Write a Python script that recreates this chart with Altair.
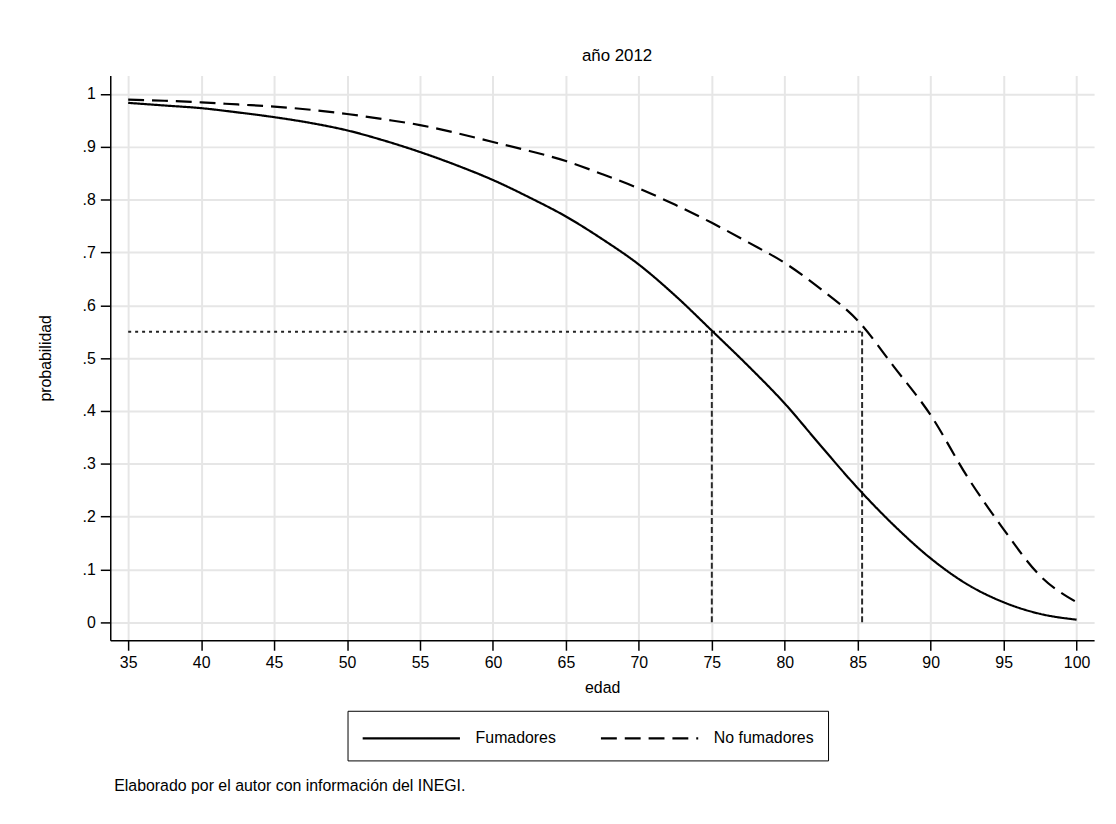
import altair as alt
import pandas as pd

ages = [35, 37.5, 40, 42.5, 45, 47.5, 50, 52.5, 55, 57.5, 60, 62.5, 65, 67.5,
        70, 72.5, 75, 77.5, 80, 82.5, 85, 87.5, 90, 92.5, 95, 97.5, 100]
fumadores = [0.983, 0.978, 0.973, 0.965, 0.956, 0.945, 0.931, 0.912, 0.890,
             0.865, 0.837, 0.804, 0.768, 0.725, 0.677, 0.618, 0.552, 0.485,
             0.414, 0.333, 0.254, 0.183, 0.121, 0.072, 0.038, 0.016, 0.005]
no_fumadores = [0.989, 0.987, 0.984, 0.980, 0.976, 0.970, 0.962, 0.952, 0.941,
                0.926, 0.909, 0.892, 0.873, 0.848, 0.821, 0.790, 0.756, 0.719,
                0.680, 0.630, 0.571, 0.483, 0.392, 0.276, 0.176, 0.088, 0.038]
series = ["Fumadores", "No fumadores"]
ref_prob = 0.55
ref_start = 35
ref_ages = [75, 85.3]
x_ticks = list(range(35, 101, 5))
y_ticks = [round(i / 10, 1) for i in range(0, 11)]
title_text = "año 2012"
caption = "Elaborado por el autor con información del INEGI."

FONT = "Liberation Sans"

n = len(ages)
df = pd.DataFrame({
    "edad": ages * 2,
    "prob": fumadores + no_fumadores,
    "serie": [series[0]] * n + [series[1]] * n,
})
hline = pd.DataFrame({"x": [ref_start], "x2": [max(ref_ages)], "y": [ref_prob]})
vlines = pd.DataFrame({"x": ref_ages, "y": [0] * len(ref_ages), "y2": [ref_prob] * len(ref_ages)})

x_scale = alt.Scale(domain=[33.77, 101.2], nice=False, zero=False)
y_scale = alt.Scale(domain=[-0.034, 1.035], nice=False, zero=False)

x_axis = alt.Axis(values=x_ticks, title="edad", tickSize=10, labelPadding=4,
                  titlePadding=10, grid=True)
y_axis = alt.Axis(values=y_ticks, title="probabilidad", tickSize=10, labelPadding=5,
                  titlePadding=29, grid=True,
                  labelExpr="datum.value == 0 ? '0' : datum.value == 1 ? '1' : '.' + round(datum.value * 10)")

# legend sample: a custom stroke path 4x as long as the symbol's nominal size
SYM = "M-1,0L7,0"

lines = alt.Chart(df).mark_line(color="black", strokeWidth=2.2, interpolate="monotone").encode(
    x=alt.X("edad:Q", scale=x_scale, axis=x_axis),
    y=alt.Y("prob:Q", scale=y_scale, axis=y_axis),
    strokeDash=alt.StrokeDash(
        "serie:N",
        scale=alt.Scale(domain=series, range=[[1, 0], [16, 8]]),
        legend=alt.Legend(
            title=None, orient="none", legendX=239, legendY=640,
            direction="horizontal", columns=2, strokeColor="black",
            padding=14, symbolType=SYM, symbolSize=600,
            symbolStrokeWidth=2.2, symbolStrokeColor="black",
            labelFontSize=16, labelOffset=88, columnPadding=40,
            labelColor="black",
        ),
    ),
)

h_rule = alt.Chart(hline).mark_rule(color="#222222", strokeWidth=2, strokeDash=[3, 4]).encode(
    x="x:Q", x2="x2:Q", y="y:Q"
)
v_rule = alt.Chart(vlines).mark_rule(color="#2a2a2a", strokeWidth=2, strokeDash=[6, 3]).encode(
    x="x:Q", y="y:Q", y2="y2:Q"
)

cap = alt.Chart(alt.Data(values=[{"t": caption}])).mark_text(
    align="left", baseline="middle", fontSize=16, font=FONT, color="black"
).encode(text="t:N", x=alt.value(4), y=alt.value(716))

chart = alt.layer(v_rule, h_rule, lines, cap).properties(
    width=991, height=569,
    autosize=alt.AutoSizeParams(type="none"),
    padding={"left": 103, "top": 65, "right": 14, "bottom": 160},
    background="white",
    title=alt.TitleParams(title_text, fontSize=17, fontWeight="normal", offset=10,
                          dx=15, anchor="middle", font=FONT, color="black"),
).configure_view(stroke=None).configure_axis(
    labelFont=FONT, titleFont=FONT, labelFontSize=16, titleFontSize=16,
    titleFontWeight="normal", labelColor="black", titleColor="black",
    domainColor="black", domainWidth=1.5, tickColor="black", tickWidth=1.5,
    gridColor="#e6e6e6", gridWidth=2,
).configure_legend(labelFont=FONT)

chart.save("out.html", embed_options={"renderer": "svg", "actions": False})
